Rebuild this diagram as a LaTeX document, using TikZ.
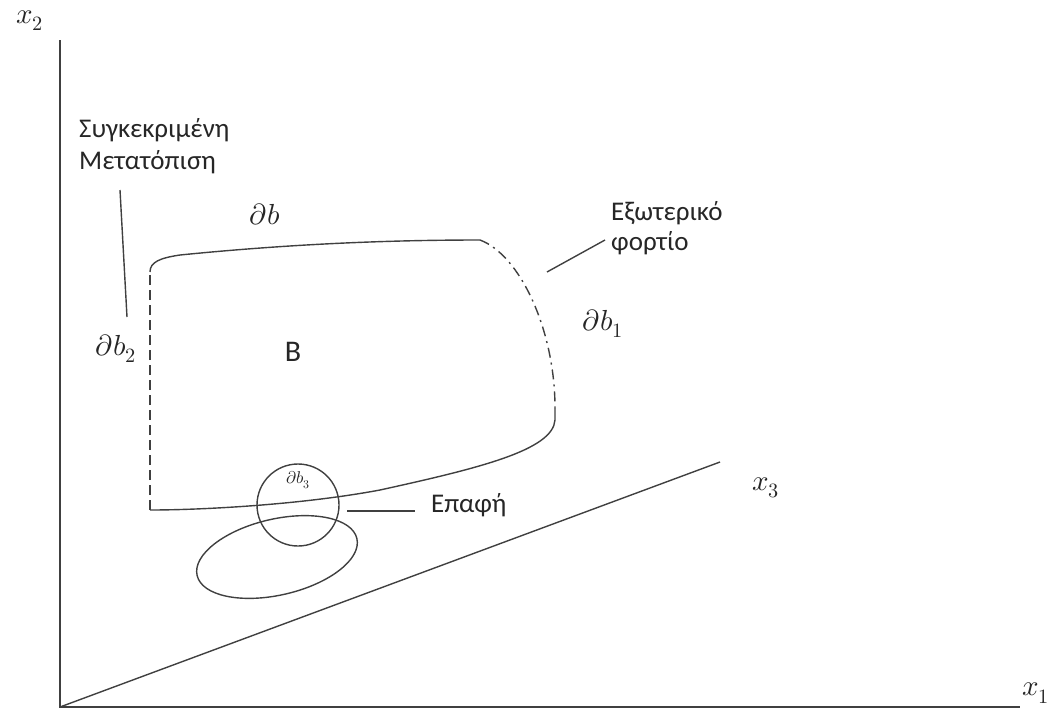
\documentclass[tikz,border=0pt]{standalone}
\usepackage{fontspec}
\setmainfont{Carlito}
\usepackage{unicode-math}
\setmathfont{Latin Modern Math}
\begin{document}
\begin{tikzpicture}[x=1pt,y=-1pt,
  ln/.style={draw=black!75,line width=1.4pt},
  lbl/.style={font=\fontsize{27}{32}\selectfont,text=black!85,inner sep=0pt},
  mth/.style={font=\fontsize{29}{34}\selectfont,text=black!85,inner sep=0pt}]
\useasboundingbox (0,0) rectangle (1057,718);
% axes
\coordinate (O) at (60,707);
\coordinate (Y) at (60,40);
\coordinate (X) at (1020,707);
\coordinate (Z) at (720,462);
\draw[ln] (Y) -- (O) -- (X);
\draw[ln] (O) -- (Z);
\node[mth] (x2) at (30,21) {$x_2$};
\node[mth] (x1) at (1036,693) {$x_1$};
\node[mth] (x3) at (766,488) {$x_3$};
% body
\draw[ln] (150,272) .. controls (150,262) and (160,258) .. (180,255)
  .. controls (300,243) and (400,240) .. (480,240);
\draw[ln,dash pattern=on 10pt off 5pt on 2pt off 5pt] (480,240) .. controls (520,255) and (555,330) .. (555,408);
\draw[ln] (555,408) -- (555,420) .. controls (553,450) and (480,468) .. (380,490)
  .. controls (300,505) and (200,510) .. (150,510);
\draw[ln,dash pattern=on 10pt off 5pt] (150,510) -- (150,272);
% circle and ellipse
\draw[ln] (298,505) circle [radius=41];
\draw[ln] (277,557) ellipse [x radius=82, y radius=38, rotate=13];
% labels
\node[lbl,anchor=west] (s1) at (79,130) {Συγκεκριμένη};
\node[lbl,anchor=west] (s2) at (79,162) {Μετατόπιση};
\coordinate (m1) at (120,190);
\coordinate (m2) at (127,317);
\draw[ln] (m1) -- (m2);
\node[mth] (db2) at (116,349) {$\partial b_2$};
\node[lbl,font=\fontsize{30}{36}\selectfont] (B) at (293,352) {B};
\node[mth] (db) at (265,214) {$\partial b$};
\node[mth] (db1) at (603,324) {$\partial b_1$};
\node[lbl,anchor=west] (e1) at (611,213) {Εξωτερικό};
\node[lbl,anchor=west] (e2) at (611,243) {φορτίο};
\coordinate (f1) at (547,272);
\coordinate (f2) at (605,240);
\draw[ln] (f1) -- (f2);
\node[mth,font=\fontsize{17}{20}\selectfont] (db3) at (298,480) {$\partial b_3$};
\node[lbl,anchor=west] (ep) at (431,505) {Επαφή};
\coordinate (p1) at (347,511);
\coordinate (p2) at (415,511);
\draw[ln] (p1) -- (p2);
\end{tikzpicture}
\end{document}
